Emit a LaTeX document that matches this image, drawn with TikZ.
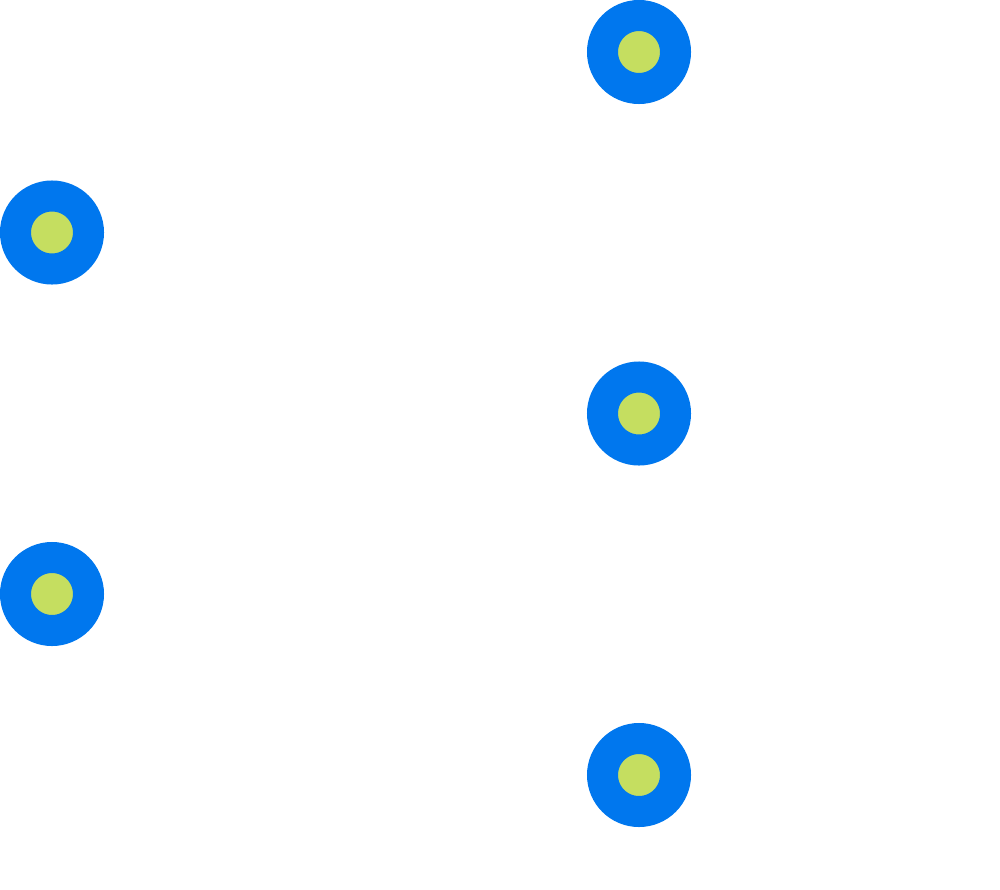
\documentclass[tikz,border=0pt]{standalone}
\definecolor{ringblue}{RGB}{0,119,238}
\definecolor{coregreen}{RGB}{197,222,96}
\tikzset{dotnode/.style={circle,draw=ringblue,fill=coregreen,line width=31pt,minimum size=73pt,inner sep=0pt,outer sep=0pt}}
\begin{document}
\begin{tikzpicture}[x=1pt,y=-1pt]
\useasboundingbox (0,0) rectangle (1000,889);
\node[dotnode] (l1) at (52,232.5) {};
\node[dotnode] (l2) at (52,594) {};
\node[dotnode] (r1) at (639,52) {};
\node[dotnode] (r2) at (639,413.5) {};
\node[dotnode] (r3) at (639,775) {};
\end{tikzpicture}
\end{document}
